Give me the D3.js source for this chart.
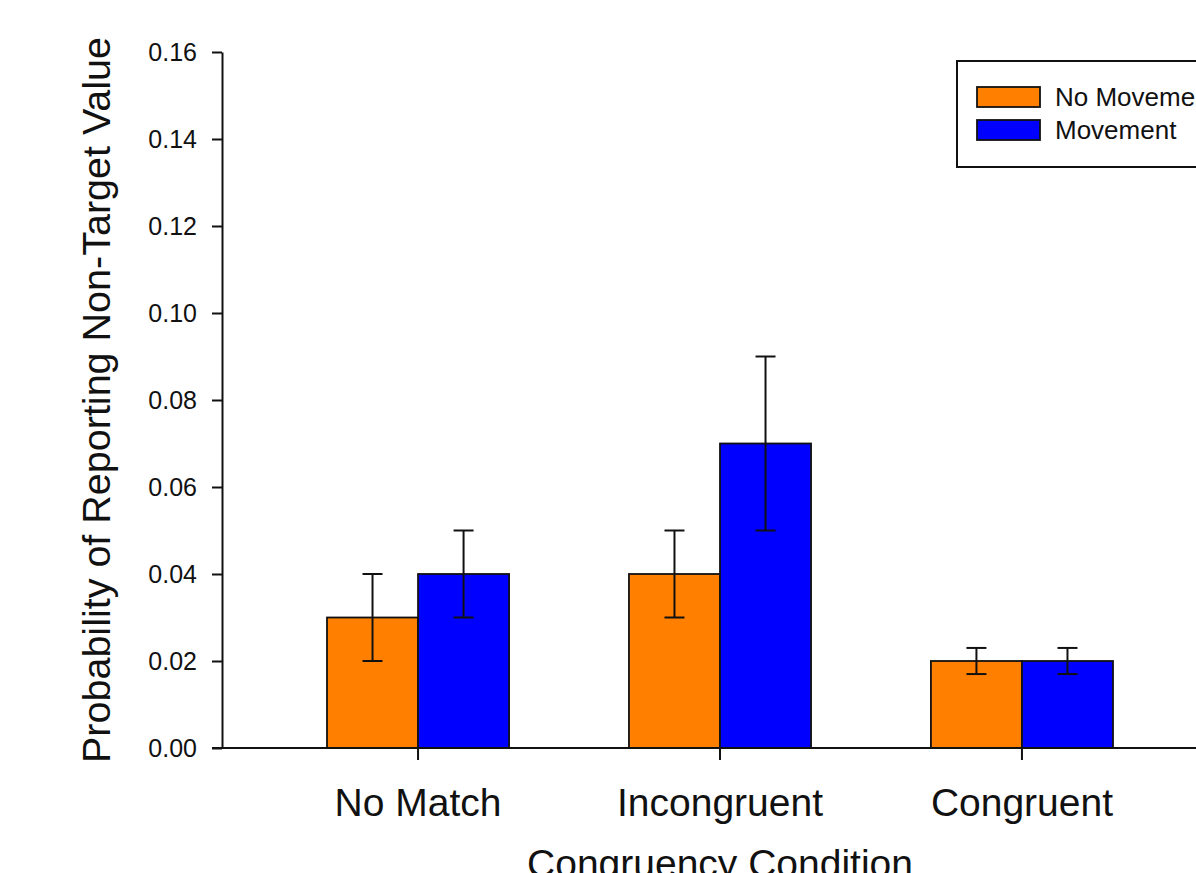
<!DOCTYPE html>
<html>
<head>
<meta charset="utf-8">
<script src="https://cdn.jsdelivr.net/npm/d3@7"></script>
<style>
  body { margin: 0; background: #fff; }
  svg { display: block; font-family: "Liberation Sans", Arial, sans-serif; }
</style>
</head>
<body>
<svg id="chart"></svg>
<script>
const categories = ["No Match", "Incongruent", "Congruent"]
const seriesNames = ["No Movement", "Movement"]
const noMovement = [0.03, 0.04, 0.02]
const movement = [0.04, 0.07, 0.02]
const noMovementErr = [0.01, 0.01, 0.003]
const movementErr = [0.01, 0.02, 0.003]
const yTicks = [0, 0.02, 0.04, 0.06, 0.08, 0.10, 0.12, 0.14, 0.16]
const colors = ["#ff8000", "#0000ff"]

const width = 1196,
    height = 873

const svg = d3.select("#chart")
    .attr("width", width)
    .attr("height", height)

const y = d3.scaleLinear().domain([0, 0.16]).range([748, 52])
const x0 = d3.scaleBand().domain(categories).range([327, 1113]).paddingInner(0.397).paddingOuter(0)
const x1 = d3.scaleBand().domain(seriesNames).range([0, x0.bandwidth()])

const rows = []
categories.forEach((c, i) => {
    rows.push({ cat: c, s: seriesNames[0], v: noMovement[i], e: noMovementErr[i], col: colors[0] })
    rows.push({ cat: c, s: seriesNames[1], v: movement[i], e: movementErr[i], col: colors[1] })
})

// bars
svg.append("g").selectAll("rect")
    .data(rows)
    .enter()
    .append("rect")
    .attr("x", d => x0(d.cat) + x1(d.s))
    .attr("y", d => y(d.v))
    .attr("width", x1.bandwidth())
    .attr("height", d => y(0) - y(d.v))
    .attr("fill", d => d.col)
    .attr("stroke", "#111")
    .attr("stroke-width", 1.8)

// error bars
const eb = svg.append("g").attr("stroke", "#111").attr("stroke-width", 2)
rows.forEach(d => {
    const cx = x0(d.cat) + x1(d.s) + x1.bandwidth() / 2
    eb.append("line").attr("x1", cx).attr("x2", cx).attr("y1", y(d.v + d.e)).attr("y2", y(d.v - d.e))
    eb.append("line").attr("x1", cx - 10).attr("x2", cx + 10).attr("y1", y(d.v + d.e)).attr("y2", y(d.v + d.e))
    eb.append("line").attr("x1", cx - 10).attr("x2", cx + 10).attr("y1", y(d.v - d.e)).attr("y2", y(d.v - d.e))
})

// y axis
const yAxis = svg.append("g")
    .attr("transform", "translate(222,0)")
    .call(d3.axisLeft(y).tickValues(yTicks).tickFormat(d3.format(".2f")).tickSize(10).tickSizeOuter(0).tickPadding(15))
yAxis.select(".domain").attr("stroke", "#111").attr("stroke-width", 2)
yAxis.selectAll(".tick line").attr("stroke", "#111").attr("stroke-width", 2)
yAxis.selectAll(".tick text").attr("font-size", 25).attr("fill", "#111").attr("font-family", "Liberation Sans, Arial, sans-serif")

// x axis
svg.append("line")
    .attr("x1", 212).attr("x2", 1230)
    .attr("y1", y(0)).attr("y2", y(0))
    .attr("stroke", "#111").attr("stroke-width", 2)

svg.append("g").selectAll("line")
    .data(categories)
    .enter()
    .append("line")
    .attr("x1", d => x0(d) + x0.bandwidth() / 2)
    .attr("x2", d => x0(d) + x0.bandwidth() / 2)
    .attr("y1", y(0))
    .attr("y2", y(0) + 12)
    .attr("stroke", "#111").attr("stroke-width", 2)

svg.append("g").selectAll("text")
    .data(categories)
    .enter()
    .append("text")
    .attr("x", d => x0(d) + x0.bandwidth() / 2)
    .attr("y", 816)
    .attr("text-anchor", "middle")
    .attr("font-size", 39)
    .attr("fill", "#111")
    .text(d => d)

// axis titles
svg.append("text")
    .attr("transform", "translate(110,400) rotate(-90)")
    .attr("text-anchor", "middle")
    .attr("font-size", 39.5)
    .attr("fill", "#111")
    .text("Probability of Reporting Non-Target Value")

svg.append("text")
    .attr("x", 720)
    .attr("y", 877)
    .attr("text-anchor", "middle")
    .attr("font-size", 39)
    .attr("fill", "#111")
    .text("Congruency Condition")

// legend
const legend = svg.append("g")
legend.append("rect")
    .attr("x", 957).attr("y", 61)
    .attr("width", 300).attr("height", 106)
    .attr("fill", "#fff").attr("stroke", "#111").attr("stroke-width", 2)

legend.selectAll("rect.sw")
    .data(seriesNames)
    .enter()
    .append("rect")
    .attr("class", "sw")
    .attr("x", 977)
    .attr("y", (d, i) => 87 + i * 33)
    .attr("width", 63).attr("height", 20)
    .attr("fill", (d, i) => colors[i])
    .attr("stroke", "#111").attr("stroke-width", 1.8)

legend.selectAll("text")
    .data(seriesNames)
    .enter()
    .append("text")
    .attr("x", 1055)
    .attr("y", (d, i) => 106 + i * 33)
    .attr("font-size", 26)
    .attr("fill", "#111")
    .text(d => d)
</script>
</body>
</html>
